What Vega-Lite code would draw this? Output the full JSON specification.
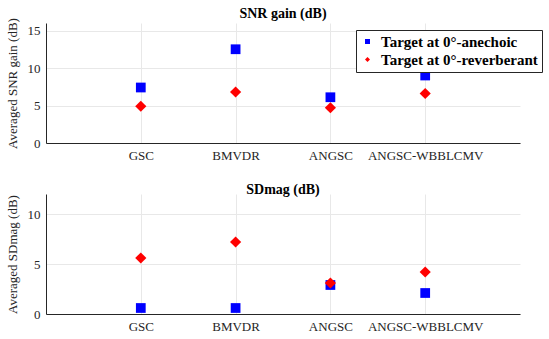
{
  "$schema": "https://vega.github.io/schema/vega-lite/v6.json",
  "padding": {"left": 5, "top": 6, "right": 5, "bottom": 5},
  "background": "white",
  "datasets": {
    "snr": [
      {"method": "GSC", "condition": "Target at 0°-anechoic", "value": 7.4},
      {"method": "BMVDR", "condition": "Target at 0°-anechoic", "value": 12.5},
      {"method": "ANGSC", "condition": "Target at 0°-anechoic", "value": 6.1},
      {"method": "ANGSC-WBBLCMV", "condition": "Target at 0°-anechoic", "value": 9.0},
      {"method": "GSC", "condition": "Target at 0°-reverberant", "value": 4.9},
      {"method": "BMVDR", "condition": "Target at 0°-reverberant", "value": 6.8},
      {"method": "ANGSC", "condition": "Target at 0°-reverberant", "value": 4.7},
      {"method": "ANGSC-WBBLCMV", "condition": "Target at 0°-reverberant", "value": 6.6}
    ],
    "sd": [
      {"method": "GSC", "condition": "Target at 0°-anechoic", "value": 0.6},
      {"method": "BMVDR", "condition": "Target at 0°-anechoic", "value": 0.6},
      {"method": "ANGSC", "condition": "Target at 0°-anechoic", "value": 2.9},
      {"method": "ANGSC-WBBLCMV", "condition": "Target at 0°-anechoic", "value": 2.1},
      {"method": "GSC", "condition": "Target at 0°-reverberant", "value": 5.6},
      {"method": "BMVDR", "condition": "Target at 0°-reverberant", "value": 7.2},
      {"method": "ANGSC", "condition": "Target at 0°-reverberant", "value": 3.1},
      {"method": "ANGSC-WBBLCMV", "condition": "Target at 0°-reverberant", "value": 4.2}
    ]
  },
  "config": {
    "font": "Liberation Serif",
    "view": {"stroke": null},
    "title": {"font": "Liberation Serif", "fontSize": 14, "fontWeight": "bold", "color": "black", "offset": -3},
    "axis": {
      "labelFont": "Liberation Serif", "labelFontSize": 13, "labelColor": "#262626",
      "titleFont": "Liberation Serif", "titleFontSize": 13, "titleFontWeight": "normal", "titleColor": "#262626",
      "domainColor": "#262626", "gridColor": "#e8e8e8", "ticks": false, "labelPadding": 6
    },
    "concat": {"spacing": 21}
  },
  "resolve": {"scale": {"color": "independent", "shape": "independent", "y": "independent"}, "legend": {"color": "independent", "shape": "independent"}},
  "vconcat": [
    {
      "width": 474, "height": 120,
      "title": "SNR gain (dB)",
      "data": {"name": "snr"},
      "mark": {"type": "point", "filled": true, "opacity": 1},
      "encoding": {
        "x": {"field": "method", "type": "ordinal", "sort": ["GSC", "BMVDR", "ANGSC", "ANGSC-WBBLCMV"],
              "scale": {"type": "point", "padding": 1},
              "axis": {"title": null, "labelAngle": 0, "grid": true, "labelFont": "Liberation Serif"}},
        "y": {"field": "value", "type": "quantitative", "scale": {"domain": [0, 16], "nice": false},
              "axis": {"title": "Averaged SNR gain (dB)", "values": [0, 5, 10, 15], "grid": true, "titlePadding": 8, "labelFont": "Liberation Serif"}},
        "color": {"field": "condition", "type": "nominal",
                  "scale": {"domain": ["Target at 0°-anechoic", "Target at 0°-reverberant"], "range": ["#0000ff", "#ff0000"]},
                  "legend": {"title": null, "orient": "none", "legendX": 310, "legendY": 7,
                             "strokeColor": "#262626", "fillColor": "white", "padding": 4,
                             "labelFont": "Liberation Serif", "labelFontSize": 15, "labelFontWeight": "bold", "labelColor": "black",
                             "symbolSize": 25, "rowPadding": 2, "labelOffset": 6}},
        "shape": {"field": "condition", "type": "nominal",
                  "scale": {"domain": ["Target at 0°-anechoic", "Target at 0°-reverberant"], "range": ["square", "diamond"]},
                  "legend": null},
        "size": {"field": "condition", "type": "nominal",
                 "scale": {"domain": ["Target at 0°-anechoic", "Target at 0°-reverberant"], "range": [95, 125]}, "legend": null}
      }
    },
    {
      "width": 474, "height": 120,
      "title": "SDmag (dB)",
      "data": {"name": "sd"},
      "mark": {"type": "point", "filled": true, "opacity": 1},
      "encoding": {
        "x": {"field": "method", "type": "ordinal", "sort": ["GSC", "BMVDR", "ANGSC", "ANGSC-WBBLCMV"],
              "scale": {"type": "point", "padding": 1},
              "axis": {"title": null, "labelAngle": 0, "grid": true, "labelFont": "Liberation Serif"}},
        "y": {"field": "value", "type": "quantitative", "scale": {"domain": [0, 12], "nice": false},
              "axis": {"title": "Averaged SDmag (dB)", "values": [0, 5, 10], "grid": true, "titlePadding": 8, "labelFont": "Liberation Serif"}},
        "color": {"field": "condition", "type": "nominal",
                  "scale": {"domain": ["Target at 0°-anechoic", "Target at 0°-reverberant"], "range": ["#0000ff", "#ff0000"]},
                  "legend": null},
        "shape": {"field": "condition", "type": "nominal",
                  "scale": {"domain": ["Target at 0°-anechoic", "Target at 0°-reverberant"], "range": ["square", "diamond"]},
                  "legend": null},
        "size": {"field": "condition", "type": "nominal",
                 "scale": {"domain": ["Target at 0°-anechoic", "Target at 0°-reverberant"], "range": [95, 125]}, "legend": null}
      }
    }
  ]
}
